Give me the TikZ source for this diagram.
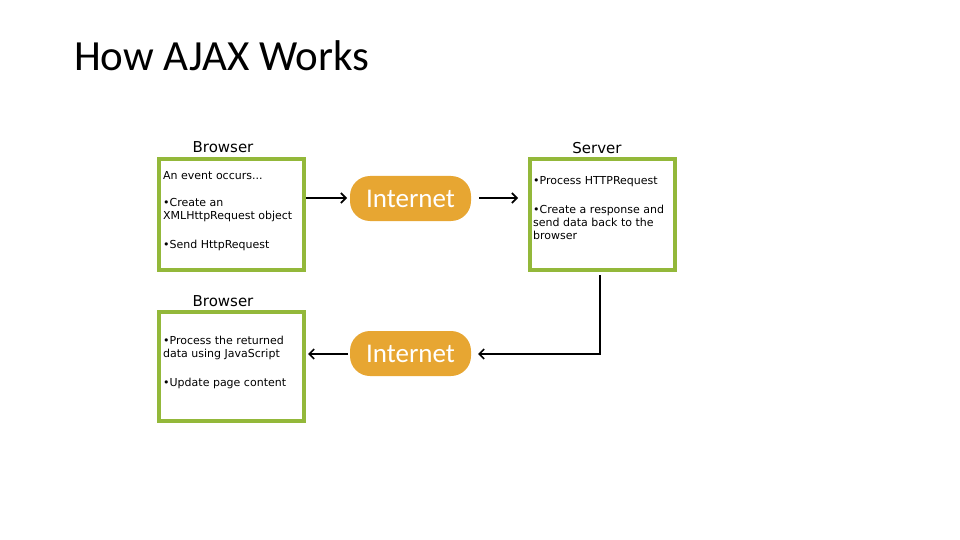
\documentclass[tikz,border=0pt]{standalone}
\usepackage{fontspec}
\setmainfont{Carlito}
\newfontfamily\boxfont{DejaVu Sans}
\usetikzlibrary{arrows.meta}
\definecolor{boxgreen}{HTML}{93B83A}
\definecolor{netorange}{HTML}{E7A632}
\tikzset{
  gbox/.style={draw=boxgreen, line width=4pt, fill=white},
  net/.style={fill=netorange, rounded corners=20pt, text=white, font=\fontsize{27}{29}\selectfont, inner sep=0pt},
  lbl/.style={font=\boxfont\fontsize{15}{17}\selectfont, anchor=base},
  txt/.style={font=\boxfont\fontsize{11}{13}\selectfont, anchor=base west, align=left, inner sep=0pt},
  conn/.style={line width=2pt, -{Straight Barb[length=5pt,width=10pt,line width=1.6pt]}},
}
\begin{document}
\begin{tikzpicture}[x=1pt,y=-1pt]
\useasboundingbox (0,0) rectangle (960,540);
\node[anchor=base west, inner sep=0pt, font=\fontsize{43}{46}\selectfont] (title) at (74,71) {How AJAX Works};

% boxes
\node[gbox, minimum width=145pt, minimum height=111pt, anchor=north west] (b1) at (157,157) {};
\node[gbox, minimum width=145pt, minimum height=111pt, anchor=north west] (srv) at (528,157) {};
\node[gbox, minimum width=145pt, minimum height=109pt, anchor=north west] (b2) at (157,310) {};

\node[lbl] (lb1) at (223,153) {Browser};
\node[lbl] (lsrv) at (597,154) {Server};
\node[lbl] (lb2) at (223,306) {Browser};

% texts (anchor is the baseline of the last line)
\node[txt] (t1a) at (163,179) {An event occurs...};
\node[txt] (t1b) at (163,219) {•Create an\\XMLHttpRequest object};
\node[txt] (t1c) at (163,248) {•Send HttpRequest};

\node[txt] (t2a) at (533,185) {•Process HTTPRequest};
\node[txt] (t2b) at (533,239) {•Create a response and\\send data back to the\\browser};

\node[txt] (t3a) at (163,357) {•Process the returned\\data using JavaScript};
\node[txt] (t3b) at (163,386) {•Update page content};

% internet pills
\node[net, minimum width=121pt, minimum height=45pt] (i1) at (410.5,198.5) {Internet};
\node[net, minimum width=121pt, minimum height=45pt] (i2) at (410.5,353.5) {Internet};

% connectors
\coordinate (c1s) at (306,198);
\coordinate (c1e) at (347,198);
\draw[conn] (c1s) -- (c1e);
\coordinate (c2s) at (479,198);
\coordinate (c2e) at (518,198);
\draw[conn] (c2s) -- (c2e);
\coordinate (c3s) at (600,275);
\coordinate (c3m) at (600,354);
\coordinate (c3e) at (478,354);
\draw[conn] (c3s) -- (c3m) -- (c3e);
\coordinate (c4s) at (348,354);
\coordinate (c4e) at (308,354);
\draw[conn] (c4s) -- (c4e);
\end{tikzpicture}
\end{document}
